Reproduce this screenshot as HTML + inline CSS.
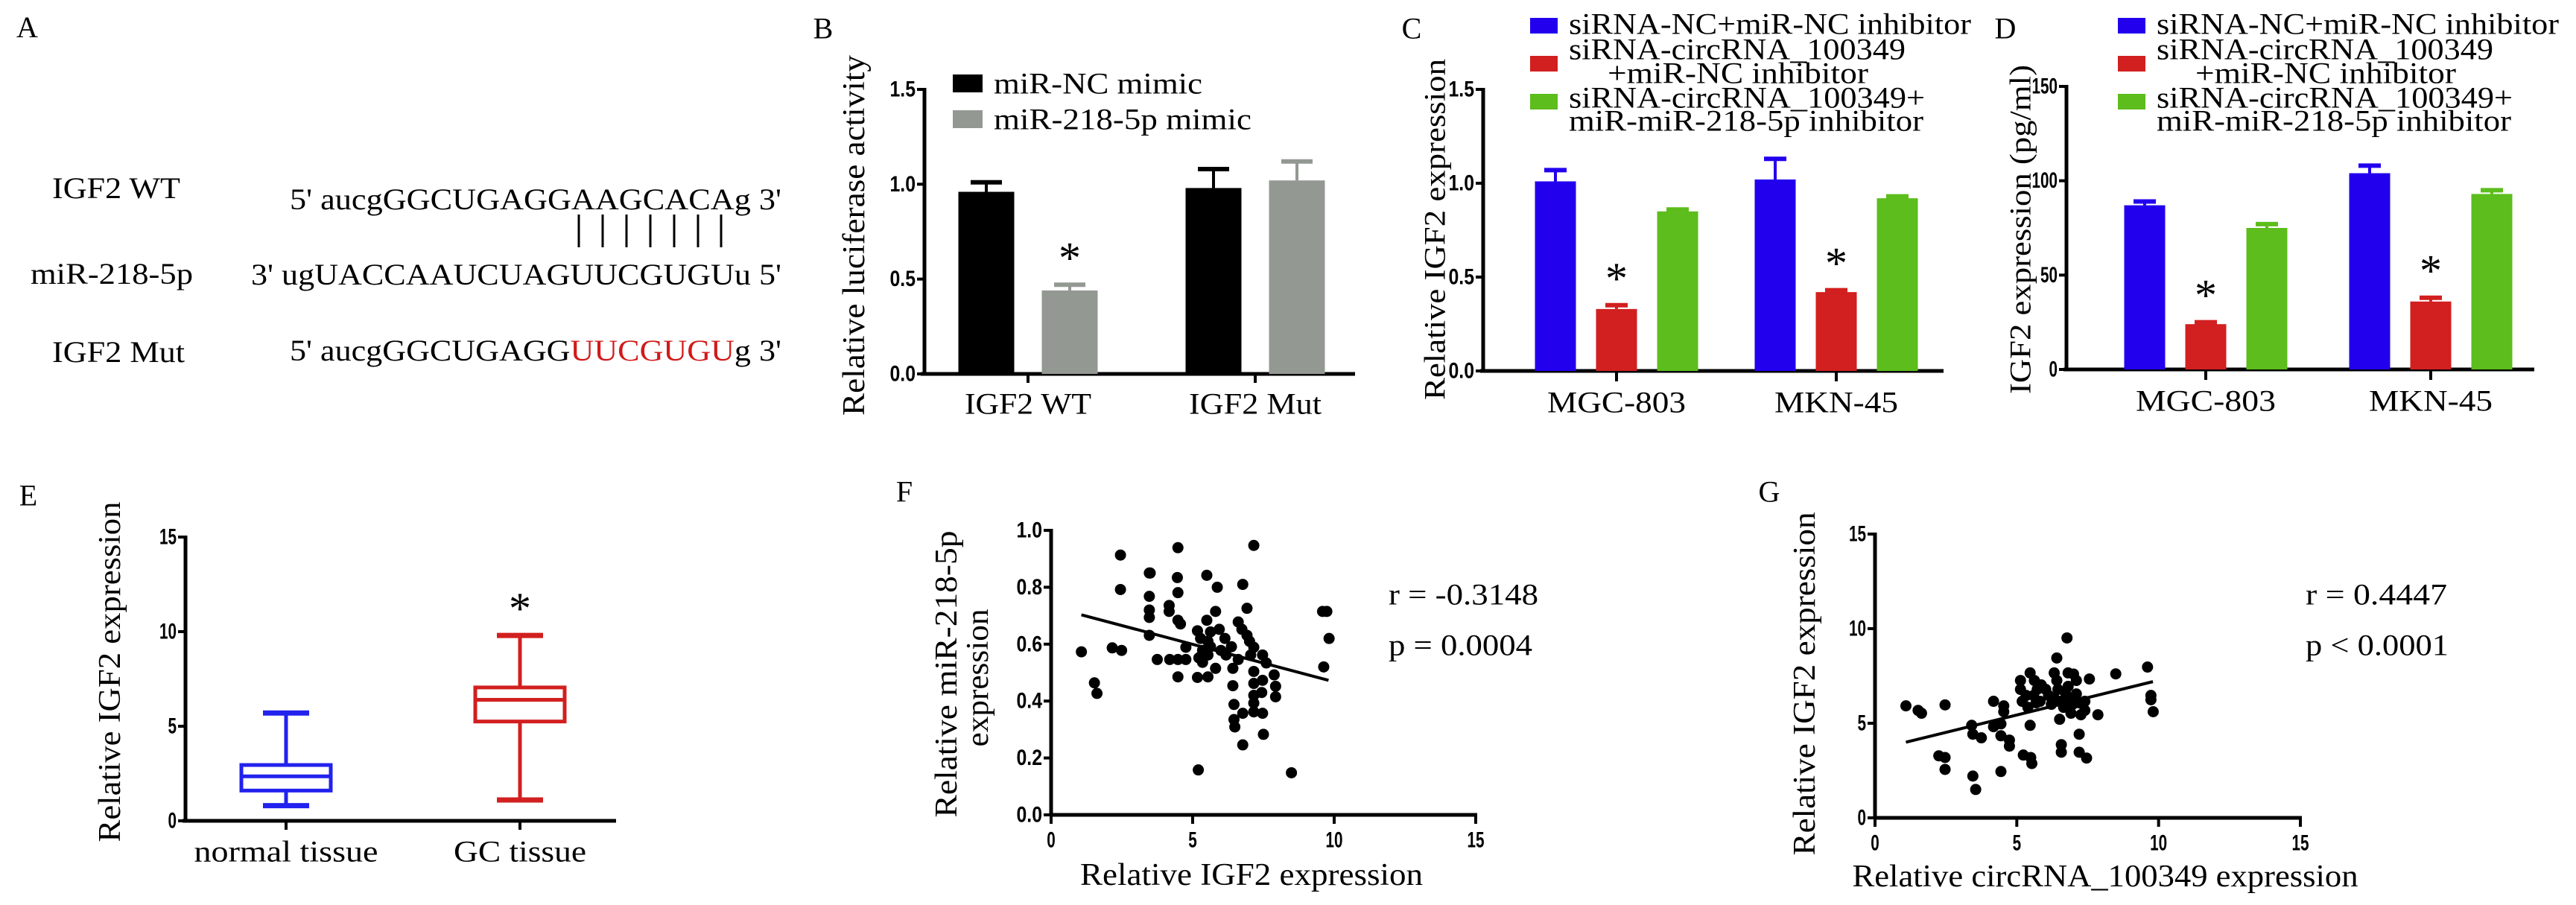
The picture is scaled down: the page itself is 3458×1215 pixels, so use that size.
<!DOCTYPE html>
<html><head><meta charset="utf-8"><title>IGF2 figure</title>
<style>
html,body{margin:0;padding:0;background:#fff;}
svg{display:block;}
text{font-family:"Liberation Serif",serif;fill:#000;}
.tick{font-family:"Liberation Sans",sans-serif;font-weight:bold;font-size:30px;}
</style></head>
<body>
<svg id="fig" xmlns="http://www.w3.org/2000/svg" width="3458" height="1215" viewBox="0 0 3458 1215">
<rect width="3458" height="1215" fill="#fff"/>
<!-- Panel A -->
<g>
<text x="22" y="50" font-size="40">A</text>
<text x="70" y="266" font-size="40" textLength="172" lengthAdjust="spacingAndGlyphs">IGF2 WT</text>
<text x="389" y="281" font-size="40" textLength="660" lengthAdjust="spacingAndGlyphs">5' aucgGGCUGAGGAAGCACAg 3'</text>
<g stroke="#000" stroke-width="3">
<line x1="777" y1="288" x2="777" y2="332"/><line x1="809" y1="288" x2="809" y2="332"/><line x1="841" y1="288" x2="841" y2="332"/><line x1="873" y1="288" x2="873" y2="332"/><line x1="905" y1="288" x2="905" y2="332"/><line x1="937" y1="288" x2="937" y2="332"/><line x1="968" y1="288" x2="968" y2="332"/>
</g>
<text x="41" y="381" font-size="40" textLength="218" lengthAdjust="spacingAndGlyphs">miR-218-5p</text>
<text x="337" y="382" font-size="40" textLength="712" lengthAdjust="spacingAndGlyphs">3' ugUACCAAUCUAGUUCGUGUu 5'</text>
<text x="70" y="486" font-size="40" textLength="178" lengthAdjust="spacingAndGlyphs">IGF2 Mut</text>
<text x="389" y="484" font-size="40" textLength="660" lengthAdjust="spacingAndGlyphs">5' aucgGGCUGAGG<tspan fill="#d11a1a">UUCGUGU</tspan>g 3'</text>
</g>
<g id="charts"></g>
</svg>
<script>
// ---------- data ----------
const bCategories = ["IGF2 WT", "IGF2 Mut"];
const bSeries = ["miR-NC mimic", "miR-218-5p mimic"];
const bValues = [[0.96, 0.44], [0.98, 1.02]];
const bErrors = [[1.01, 0.47], [1.08, 1.12]];
const bTicks = ["0.0", "0.5", "1.0", "1.5"];

const cdCategories = ["MGC-803", "MKN-45"];
const cdSeries = ["siRNA-NC+miR-NC inhibitor", "siRNA-circRNA_100349 +miR-NC inhibitor", "siRNA-circRNA_100349+ miR-miR-218-5p inhibitor"];
const cValues = [[1.01, 0.33, 0.85], [1.02, 0.42, 0.92]];
const cErrors = [[1.07, 0.35, 0.86], [1.13, 0.43, 0.93]];
const cTicks = ["0.0", "0.5", "1.0", "1.5"];
const dValues = [[87, 24, 75], [104, 36, 93]];
const dErrors = [[89, 25, 77], [108, 38, 95]];
const dTicks = ["0", "50", "100", "150"];

const eCategories = ["normal tissue", "GC tissue"];
const eMin = [0.8, 1.1];
const eQ1 = [1.6, 5.25];
const eMedian = [2.35, 6.4];
const eQ3 = [2.95, 7.05];
const eMax = [5.7, 9.8];
const eTicks = ["0", "5", "10", "15"];

const fX = [1.07,1.53,1.62,2.16,2.45,2.45,2.49,3.47,3.5,3.47,3.47,3.47,3.47,3.75,4.17,4.17,4.19,4.48,4.46,4.48,4.48,4.57,4.48,4.48,4.76,4.76,5.17,5.17,5.2,5.22,5.28,5.35,5.35,5.5,5.5,5.54,5.54,5.54,5.63,5.63,5.81,5.81,5.87,5.94,6.0,6.14,6.18,6.37,6.42,6.42,6.46,6.46,6.49,6.61,6.61,6.74,6.77,6.77,6.77,6.92,6.92,7.01,7.05,7.16,7.16,7.16,7.16,7.16,7.16,7.16,7.47,7.47,7.44,7.47,7.5,7.6,7.88,7.93,7.93,8.49,9.59,9.74,9.63,9.82];
const fY = [0.573,0.464,0.427,0.587,0.913,0.792,0.578,0.85,0.85,0.768,0.72,0.694,0.631,0.546,0.736,0.715,0.546,0.939,0.834,0.781,0.684,0.671,0.546,0.485,0.546,0.589,0.647,0.483,0.158,0.552,0.62,0.578,0.536,0.842,0.684,0.61,0.562,0.485,0.643,0.591,0.715,0.515,0.8,0.652,0.578,0.62,0.562,0.591,0.515,0.454,0.388,0.335,0.309,0.678,0.546,0.652,0.81,0.357,0.246,0.726,0.631,0.61,0.562,0.947,0.589,0.504,0.462,0.42,0.393,0.362,0.562,0.473,0.43,0.357,0.283,0.534,0.492,0.452,0.415,0.148,0.715,0.715,0.52,0.62];
const fFit = [[1.07, 0.703], [9.8, 0.473]];
const fXTicks = ["0", "5", "10", "15"];
const fYTicks = ["0.0", "0.2", "0.4", "0.6", "0.8", "1.0"];

const gX = [1.09,1.52,1.64,2.47,2.25,2.47,2.47,3.41,3.45,3.45,3.55,3.75,4.18,4.18,4.44,4.44,4.44,4.54,4.54,4.74,4.74,5.13,5.13,5.19,5.23,5.33,5.39,5.47,5.47,5.49,5.53,5.59,5.72,5.82,5.86,6.12,6.22,6.32,6.41,6.41,6.45,6.51,6.51,6.57,6.57,6.65,6.77,6.81,6.81,6.85,6.91,7.1,7.1,7.2,7.2,7.2,7.26,7.4,7.4,7.46,7.56,7.86,8.49,9.61,9.73,9.73,9.81,5.62,6.02,6.71,6.97,6.32,5.68,7.0];
const gY = [5.92,5.68,5.53,5.97,3.28,3.19,2.56,4.89,4.42,2.21,1.5,4.23,6.16,4.82,4.97,4.34,2.45,5.92,5.61,4.11,3.79,7.26,6.79,6.16,3.32,6.47,5.84,7.66,4.89,3.19,2.87,6.47,6.79,6.16,7.03,6.47,6.0,7.66,8.45,7.26,6.79,6.16,5.21,3.87,3.47,5.84,9.51,7.66,6.95,6.32,5.53,7.26,6.55,6.08,4.42,3.47,5.45,6.16,5.68,3.16,7.34,5.45,7.61,7.97,6.47,6.24,5.61,7.26,6.79,6.63,6.0,6.32,6.08,7.6];
const gFit = [[1.09, 4.0], [9.8, 7.2]];
const gTicks = ["0", "5", "10", "15"];

// ---------- helpers ----------
const NS = "http://www.w3.org/2000/svg";
const root = document.getElementById("charts");
function mk(tag, attrs, parent, txt) {
  const el = document.createElementNS(NS, tag);
  for (const k in attrs) el.setAttribute(k, attrs[k]);
  if (txt !== undefined) el.textContent = txt;
  (parent || root).appendChild(el);
  return el;
}
function group(name) {
  const g = mk("g", {});
  
  
  return g;
}
function linScale(d0, d1, r0, r1) { return v => r0 + (v - d0) * (r1 - r0) / (d1 - d0); }
function label(g, name, x, y, size, str, len, anchor, rot) {
  const a = {x: x, y: y, "font-size": size, "dominant-baseline": "central", "text-anchor": anchor || "middle"};
  if (len) { a.textLength = len; a.lengthAdjust = "spacingAndGlyphs"; }
  if (rot) a.transform = "rotate(-90 " + x + " " + y + ")";
  const t = mk("text", a, g, str);
  
  
  return t;
}
function tickLen(t) { return t.length * 11.5; }
function yAxis(g, name, ax, yS, ticks, top, bottom) {
  const ln = mk("line", {x1: ax, y1: top - 2, x2: ax, y2: bottom + 2, stroke: "#000", "stroke-width": 5}, g);
  
  
  ticks.forEach(t => {
    const y = yS(parseFloat(t));
    mk("line", {x1: ax - 10, y1: y, x2: ax, y2: y, stroke: "#000", "stroke-width": 4}, g);
    const tx = mk("text", {x: ax - 12, y: y, "text-anchor": "end", "dominant-baseline": "central", class: "tick", textLength: tickLen(t), lengthAdjust: "spacingAndGlyphs"}, g, t);
    
    
  });
}
function errBar(g, x, yTop, yErr, capW) {
  mk("line", {x1: x, y1: yTop, x2: x, y2: yErr, stroke: "inherit", "stroke-width": 4}, g);
  mk("line", {x1: x - capW / 2, y1: yErr, x2: x + capW / 2, y2: yErr, stroke: "inherit", "stroke-width": 6}, g);
}
function star(g, x, y) {
  const s = mk("text", {x: x, y: y + 20, "text-anchor": "middle", "font-size": 60, "font-family": "Liberation Sans, sans-serif"}, g, "*");
  
  
}

// ---------- Panel B ----------
(function () {
  const g = group("panel-b");
  label(g, "panel-label-b", 1105, 38, 40, "B");
  const yS = linScale(0, 1.5, 502, 120);
  yAxis(g, "b-y-axis", 1241, yS, bTicks, 120, 502);
  mk("line", {x1: 1236, y1: 502, x2: 1819, y2: 502, stroke: "#000", "stroke-width": 5}, g);
  const colors = ["#000000", "#949893"];
  const groupX = [1380, 1685];
  const barW = 75, off = [-56, 56];
  bCategories.forEach((c, i) => {
    mk("line", {x1: groupX[i], y1: 502, x2: groupX[i], y2: 514, stroke: "#000", "stroke-width": 4}, g);
    label(g, "b-x-label", groupX[i], 542, 40, c, i === 0 ? 170 : 178);
    bSeries.forEach((s, j) => {
      const cx = groupX[i] + off[j];
      const eg = mk("g", {stroke: colors[j]}, g);
      errBar(eg, cx, yS(bValues[i][j]), yS(bErrors[i][j]), 42);
      const r = mk("rect", {x: cx - barW / 2, y: yS(bValues[i][j]), width: barW, height: 502 - yS(bValues[i][j]), fill: colors[j]}, g);
      
      
      if (i === 0 && j === 1) star(g, cx, yS(bErrors[i][j]) - 36);
    });
  });
  label(g, "b-y-axis-title", 1147, 316, 42, "Relative luciferase activity", 484, "middle", true);
  const legY = [112, 160], legW = [280, 346];
  bSeries.forEach((s, j) => {
    const sw = mk("rect", {x: 1279, y: legY[j] - 12, width: 40, height: 24, fill: colors[j]}, g);
    
    
    label(g, "legend-entry", 1334, legY[j], 40, s, legW[j], "start");
  });
})();

// ---------- Panels C & D ----------
function groupedPanel(name, letter, letterX, ax, axEnd, top, bottom, maxV, ticks, vals, errs, groupX, spacing, barW, yTitle, yTitleX, yTitleLen, legX, xLabelW) {
  const g = group(name);
  label(g, "panel-label-" + letter.toLowerCase(), letterX, 38, 40, letter);
  const yS = linScale(0, maxV, bottom, top);
  yAxis(g, name + "-y-axis", ax, yS, ticks, top, bottom);
  mk("line", {x1: ax - 4, y1: bottom, x2: axEnd, y2: bottom, stroke: "#000", "stroke-width": 5}, g);
  const colors = ["#2200ee", "#d21f1f", "#5cbd1c"];
  cdCategories.forEach((c, i) => {
    mk("line", {x1: groupX[i], y1: bottom, x2: groupX[i], y2: bottom + 14, stroke: "#000", "stroke-width": 4}, g);
    label(g, name + "-x-label", groupX[i], bottom + 42, 40, c, xLabelW[i]);
    for (let j = 0; j < 3; j++) {
      const cx = groupX[i] + (j - 1) * spacing;
      const eg = mk("g", {stroke: colors[j]}, g);
      errBar(eg, cx, yS(vals[i][j]), yS(errs[i][j]), 30);
      const r = mk("rect", {x: cx - barW / 2, y: yS(vals[i][j]), width: barW, height: bottom - yS(vals[i][j]), fill: colors[j]}, g);
      
      
      if (j === 1) star(g, cx, yS(errs[i][j]) - 36);
    }
  });
  label(g, name + "-y-axis-title", yTitleX, 308, 40, yTitle, yTitleLen, "middle", true);
  const lines = [
    [legX, 32, "siRNA-NC+miR-NC inhibitor", 540],
    [legX, 66, "siRNA-circRNA_100349", 452],
    [legX + 52, 98, "+miR-NC inhibitor", 350],
    [legX, 131, "siRNA-circRNA_100349+", 478],
    [legX, 162, "miR-miR-218-5p inhibitor", 476]
  ];
  const swY = [34, 85, 136];
  for (let j = 0; j < 3; j++) {
    const sw = mk("rect", {x: legX - 52, y: swY[j] - 10, width: 37, height: 21, fill: colors[j]}, g);
    
    
  }
  lines.forEach(l => label(g, "legend-entry", l[0], l[1], 40, l[2], l[3], "start"));
}
groupedPanel("panel-c", "C", 1895, 1991, 2609, 120, 498, 1.5, cTicks, cValues, cErrors, [2170, 2465], 82, 55, "Relative IGF2 expression", 1926, 458, 2106, [186, 166]);
groupedPanel("panel-d", "D", 2692, 2774, 3402, 116, 496, 150, dTicks, dValues, dErrors, [2961, 3263], 82, 55, "IGF2 expression (pg/ml)", 2712, 442, 2895, [188, 166]);

// ---------- Panel E ----------
(function () {
  const g = group("panel-e");
  label(g, "panel-label-e", 38, 665, 40, "E");
  const yS = linScale(0, 15, 1102, 721);
  yAxis(g, "e-y-axis", 249, yS, eTicks, 721, 1102);
  mk("line", {x1: 245, y1: 1102, x2: 827, y2: 1102, stroke: "#000", "stroke-width": 5}, g);
  const cx = [384, 698], colors = ["#2222ee", "#d21f1f"], labW = [247, 178];
  eCategories.forEach((c, i) => {
    mk("line", {x1: cx[i], y1: 1102, x2: cx[i], y2: 1114, stroke: "#000", "stroke-width": 4}, g);
    label(g, "e-x-label", cx[i], 1143, 40, c, labW[i]);
    const bg = mk("g", {stroke: colors[i], "stroke-width": 5, fill: "none"}, g);
    
    
    mk("line", {x1: cx[i], y1: yS(eMax[i]), x2: cx[i], y2: yS(eQ3[i])}, bg);
    mk("line", {x1: cx[i], y1: yS(eQ1[i]), x2: cx[i], y2: yS(eMin[i])}, bg);
    mk("line", {x1: cx[i] - 31, y1: yS(eMax[i]), x2: cx[i] + 31, y2: yS(eMax[i]), "stroke-width": 7}, bg);
    mk("line", {x1: cx[i] - 31, y1: yS(eMin[i]), x2: cx[i] + 31, y2: yS(eMin[i]), "stroke-width": 7}, bg);
    mk("rect", {x: cx[i] - 60, y: yS(eQ3[i]), width: 120, height: yS(eQ1[i]) - yS(eQ3[i])}, bg);
    mk("line", {x1: cx[i] - 60, y1: yS(eMedian[i]), x2: cx[i] + 60, y2: yS(eMedian[i])}, bg);
  });
  star(g, cx[1], yS(eMax[1]) - 36);
  label(g, "e-y-axis-title", 148, 902, 42, "Relative IGF2 expression", 457, "middle", true);
})();

// ---------- Scatter panels ----------
function scatter(name, letter, letterPos, ax, x15, top, bottom, yMax, xs, ys, fit, xTicks, yTicks, rTxt, pTxt, txtX, rLen, pLen) {
  const g = group(name);
  label(g, "panel-label-" + letter.toLowerCase(), letterPos[0], letterPos[1], 40, letter);
  const xS = linScale(0, 15, ax, x15);
  const yS = linScale(0, yMax, bottom, top);
  yAxis(g, name + "-y-axis", ax, yS, yTicks, top, bottom);
  mk("line", {x1: ax - 2, y1: bottom, x2: x15 + 2, y2: bottom, stroke: "#000", "stroke-width": 5}, g);
  xTicks.forEach(t => {
    const x = xS(parseFloat(t));
    mk("line", {x1: x, y1: bottom, x2: x, y2: bottom + 12, stroke: "#000", "stroke-width": 4}, g);
    const tx = mk("text", {x: x, y: bottom + 34, "text-anchor": "middle", "dominant-baseline": "central", class: "tick", textLength: tickLen(t), lengthAdjust: "spacingAndGlyphs"}, g, t);
    
    
  });
  xs.forEach((v, i) => {
    const c = mk("circle", {cx: xS(v), cy: yS(ys[i]), r: 7.5, fill: "#000"}, g);
    
    
  });
  const fl = mk("line", {x1: xS(fit[0][0]), y1: yS(fit[0][1]), x2: xS(fit[1][0]), y2: yS(fit[1][1]), stroke: "#000", "stroke-width": 4}, g);
  
  
  label(g, "r-value", txtX, 798, 40, rTxt, rLen, "start");
  label(g, "p-value", txtX, 866, 40, pTxt, pLen, "start");
  return g;
}
const gf = scatter("panel-f", "F", [1214, 660], 1411, 1981, 712, 1094, 1.0, fX, fY, fFit, fXTicks, fYTicks, "r = -0.3148", "p = 0.0004", 1864, 201, 193);
label(gf, "f-y-axis-title", 1271, 905, 42, "Relative miR-218-5p", 385, "middle", true);
label(gf, "f-y-axis-title-line2", 1313, 910, 42, "expression", 185, "middle", true);
label(gf, "f-x-axis-title", 1680, 1175, 42, "Relative IGF2 expression", 460);
const gg = scatter("panel-g", "G", [2375, 660], 2517, 3088, 717, 1098, 15, gX, gY, gFit, fXTicks, gTicks, "r = 0.4447", "p < 0.0001", 3095, 190, 192);
label(gg, "g-y-axis-title", 2423, 918, 42, "Relative IGF2 expression", 461, "middle", true);
label(gg, "g-x-axis-title", 2826, 1177, 42, "Relative circRNA_100349 expression", 679);
</script>
</body></html>
